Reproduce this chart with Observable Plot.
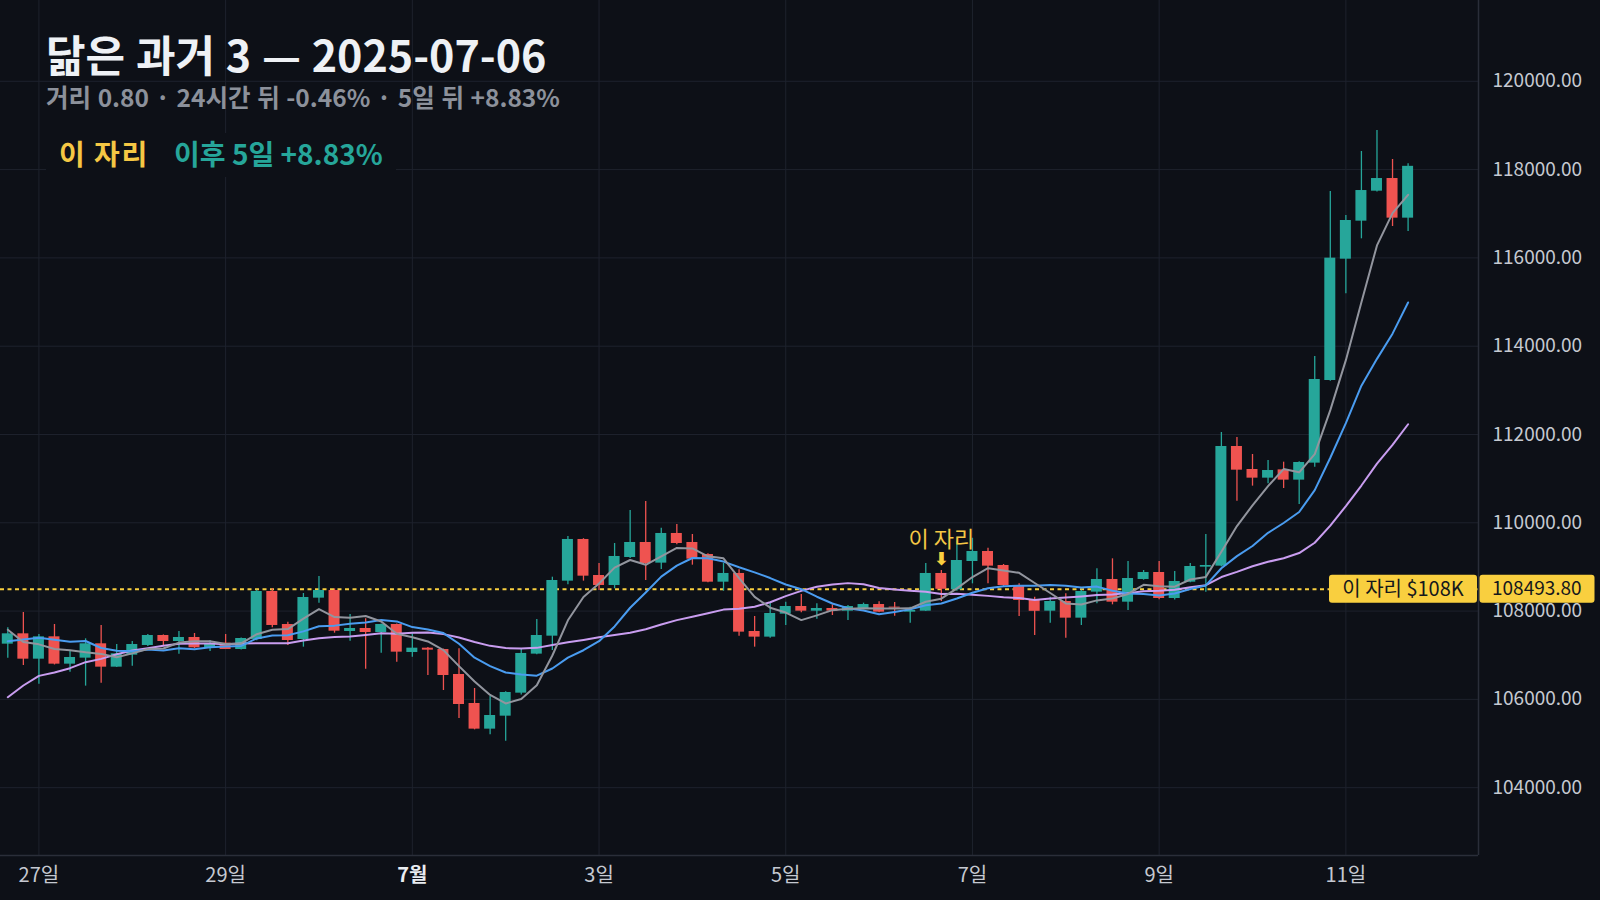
<!DOCTYPE html>
<html><head><meta charset="utf-8">
<script src="https://cdn.jsdelivr.net/npm/d3@7"></script>
<script src="https://cdn.jsdelivr.net/npm/@observablehq/plot@0.6"></script>
<style>
html,body{margin:0;padding:0;background:#0d1017;}
#chart{position:relative;width:1600px;height:900px;overflow:hidden;}
</style></head><body><div id="chart"></div>
<script>
// ---- data (4-hour candles starting 2025-06-26 16:00) ----
const startTime = Date.UTC(2025, 5, 26, 16);
const opens = [107251,107485,106911,107417,106798,106934,107259,106730,107002,107221,
  107447,107311,107402,107168,107274,107130,107357,108444,107696,107357,
  108293,108466,107538,107606,107515,107696,107062,107160,107130,106564,
  105907,105326,105620,106141,107025,107432,108678,109622,108806,108580,
  109214,109554,109086,109758,109554,109282,108655,108852,107538,107410,
  107930,108104,107998,108059,107998,108059,108149,108090,107976,107998,
  108852,108482,109123,109350,109033,108580,108262,107998,108217,107840,
  108429,108716,108202,108716,108874,108285,108655,108995,109018,111728,
  111207,111011,111199,110966,111351,113223,115971,116832,117511,117798,116900];
const highs = [107621,107968,107470,107696,107107,107372,107674,107243,107311,107470,
  107460,107538,107493,107334,107470,107390,108470,108504,107749,108399,
  108784,108504,107923,107825,107710,107710,107485,107175,107140,107145,
  106247,106066,106171,107145,107810,108768,109690,109640,109078,109531,
  110278,110482,109878,109961,109735,109300,109078,108935,107878,108180,
  108202,108376,108164,108142,108127,108180,108210,108195,108089,109078,
  108919,109584,109650,109425,109055,108618,108315,108315,108391,108470,
  108957,109184,109123,108920,109123,108897,109078,109735,112045,111932,
  111547,111411,111373,111380,113767,117504,116960,118410,118885,118229,118131];
const lows = [106934,106768,106345,106780,106617,106300,106368,106720,106753,107200,
  107198,107024,107150,107085,107130,107120,107330,107621,107221,107183,
  108180,107500,107319,106685,107047,106843,106956,106541,106201,105567,
  105310,105200,105050,106100,107010,107107,108595,108678,108467,108505,
  109190,108693,108942,109500,109040,108640,108451,107432,107183,107387,
  107674,107960,107817,107900,107787,108030,107960,107885,107727,107990,
  108217,108450,108617,108617,108550,107878,107447,107727,107387,107674,
  108164,108142,108013,108700,108255,108250,108640,108429,109000,110490,
  110830,110882,110777,110414,111260,113208,115186,116432,117490,116711,116598];
const closes = [107485,106911,107417,106798,106949,107259,106730,107032,107243,107447,
  107311,107402,107168,107259,107130,107379,108444,107674,107334,108308,
  108466,107545,107606,107515,107696,107070,107160,107115,106541,105884,
  105326,105635,106156,107040,107447,108693,109622,108791,108580,109237,
  109554,109078,109758,109531,109176,108655,108852,107523,107410,107946,
  108104,107998,108059,107998,108104,108149,107976,108067,108014,108852,
  108493.8,109146,109350,109018,108580,108240,107995,108217,107840,108444,
  108716,108202,108738,108874,108285,108670,109010,109033,111728,111192,
  111011,111184,110966,111366,113246,115994,116847,117526,117798,116900,118074];
// closes of the 19 candles before the window (for moving-average warm-up)
const priorCloses = [101611,103057,105278,104989,104539,105230,104912,105583,106387,106251,
  106502,107008,107259,107430,107079,108304,107674,107334,107088];
const maPeriods = [20, 10, 5];
const maColors = ["#c99df0", "#4a9cf0", "#92959e"];
const markIndex = 60;
const markPrice = 108493.80;
const yTicks = [104000,106000,108000,110000,112000,114000,116000,118000,120000];
const xTickDates = ["2025-06-27","2025-06-29","2025-07-01","2025-07-03","2025-07-05","2025-07-07","2025-07-09","2025-07-11"];
const xTickLabels = ["27일","29일","7월","3일","5일","7일","9일","11일"];
const xTickBold = [false,false,true,false,false,false,false,false];
const titleText = "닮은 과거 3 — 2025-07-06";
const subtitleText = "거리 0.80 · 24시간 뒤 -0.46% · 5일 뒤 +8.83%";
const legendMarkText = "이 자리";
const legendAfterText = "이후 5일 +8.83%";
const tagText = "이 자리 $108K";
const annotText = "이 자리";

// ---- build ----
const H = 3600e3;
const candles = opens.map((o, i) => ({
  date: new Date(startTime + i * 4 * H),
  open: o, high: highs[i], low: lows[i], close: closes[i],
  up: closes[i] >= o
}));
const all = priorCloses.concat(closes);
const maSeries = maPeriods.map((n, k) => ({
  color: maColors[k],
  data: closes.map((_, i) => {
    const end = i + priorCloses.length + 1;
    const s = all.slice(end - n, end);
    return {date: candles[i].date, v: d3.mean(s)};
  })
}));
const UP = "#26a69a", DOWN = "#ef5350", YEL = "#f9cf3f";
const halfBody = 1.414 * H;
const xDomain = [new Date(startTime - 1.877 * H), new Date(startTime + 378.1 * H)];
const yDomain = [102464, 121830];
const ticks = xTickDates.map((d, i) => ({date: new Date(d + "T00:00:00Z"), label: xTickLabels[i], bold: xTickBold[i]}));
const FONT = "'Noto Sans CJK KR', 'Noto Sans', sans-serif";

const chart = Plot.plot({
  width: 1600, height: 900,
  marginLeft: 0, marginRight: 122, marginTop: 0, marginBottom: 45,
  style: {background: "#0d1017", color: "#c5c9d1", fontFamily: FONT, fontSize: "19px"},
  x: {type: "utc", domain: xDomain, axis: null},
  y: {domain: yDomain, axis: null},
  marks: [
    Plot.gridY(yTicks, {stroke: "#1e222d", strokeOpacity: 1, strokeWidth: 1}),
    Plot.gridX(ticks.map(t => t.date), {stroke: "#1e222d", strokeOpacity: 1, strokeWidth: 1}),
    Plot.ruleY([yDomain[0]], {stroke: "#2a2e39", strokeWidth: 1.5}),
    Plot.ruleX([xDomain[1]], {stroke: "#2a2e39", strokeWidth: 1.5}),
    Plot.axisY(yTicks, {anchor: "right", tickSize: 0, tickPadding: 14, tickFormat: d => d.toFixed(2), fill: "#c5c9d1", fontSize: 19, label: null}),
    Plot.text(ticks.filter(t => !t.bold), {x: "date", text: "label", frameAnchor: "bottom", dy: 26, fill: "#c5c9d1", fontSize: 20}),
    Plot.text(ticks.filter(t => t.bold), {x: "date", text: "label", frameAnchor: "bottom", dy: 26, fill: "#e8ecf1", fontSize: 20, fontWeight: "bold"}),
    Plot.ruleY([markPrice], {stroke: YEL, strokeWidth: 2, strokeDasharray: "4,3.5"}),
    Plot.ruleX(candles, {x: "date", y1: "low", y2: "high", stroke: d => d.up ? UP : DOWN, strokeWidth: 1.3}),
    Plot.rect(candles, {
      x1: d => new Date(+d.date - halfBody), x2: d => new Date(+d.date + halfBody),
      y1: "open", y2: "close", fill: d => d.up ? UP : DOWN
    }),
    ...maSeries.map(s => Plot.lineY(s.data, {x: "date", y: "v", stroke: s.color, strokeWidth: 2})),
    Plot.text([candles[markIndex]], {x: "date", y: "high", text: () => annotText, dy: -31, fill: "#f5c744", fontSize: 22}),
    Plot.text([candles[markIndex]], {x: "date", y: "high", text: () => "⬇", dy: -11, fill: YEL, fontSize: 18, fontFamily: "DejaVu Sans", fontWeight: "bold"})
  ]
});

// title block, legend box and price tags
const ys = chart.scale("y");
const svg = d3.select(chart);
const ty = ys.apply(markPrice);
const head = svg.append("g").attr("font-family", FONT).attr("text-anchor", "start");
head.append("text").attr("x", 46).attr("y", 72).attr("fill", "#eef1f5").attr("font-size", 43).attr("font-weight", "bold").attr("word-spacing", 1).text(titleText);
head.append("text").attr("x", 46).attr("y", 107).attr("fill", "#8c919b").attr("font-size", 24.5).attr("font-weight", "bold").attr("word-spacing", 1).text(subtitleText);
head.append("rect").attr("x", 46).attr("y", 133).attr("width", 350).attr("height", 44).attr("fill", "#0d1017");
head.append("text").attr("x", 59).attr("y", 165).attr("fill", "#f5c744").attr("font-size", 28).attr("font-weight", "bold").attr("letter-spacing", 1.5).text(legendMarkText);
head.append("text").attr("x", 174).attr("y", 165).attr("fill", UP).attr("font-size", 28).attr("font-weight", "bold").text(legendAfterText);

const tag = svg.append("g").attr("font-family", FONT).attr("font-size", 20);
tag.append("rect").attr("x", 1329).attr("y", ty - 14).attr("width", 148).attr("height", 28).attr("rx", 3).attr("fill", YEL);
tag.append("text").attr("x", 1403).attr("y", ty).attr("dy", "0.35em").attr("text-anchor", "middle").attr("fill", "#15171c").text(tagText);
tag.append("rect").attr("x", 1479.5).attr("y", ty - 14).attr("width", 115).attr("height", 28).attr("rx", 3).attr("fill", YEL);
tag.append("text").attr("x", 1492).attr("y", ty).attr("dy", "0.35em").attr("text-anchor", "start").attr("fill", "#15171c").attr("font-size", 19).text(markPrice.toFixed(2));

document.getElementById("chart").appendChild(chart);
</script>
</body></html>
